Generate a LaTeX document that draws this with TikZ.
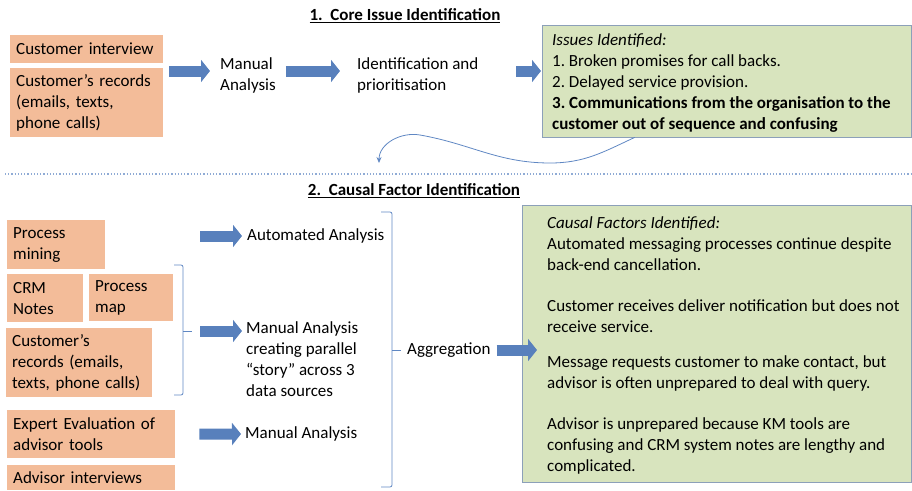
\documentclass[tikz,border=0pt]{standalone}
\usepackage{fontspec}
\setmainfont{Carlito}
\usepackage{xcolor}
\usepackage{tikz}
\usetikzlibrary{arrows.meta,positioning,calc}

\definecolor{peach}{RGB}{243,188,153}
\definecolor{sage}{RGB}{216,228,190}
\definecolor{sageline}{RGB}{140,160,185}
\definecolor{arrowblue}{RGB}{88,128,188}
\definecolor{lineblue}{RGB}{95,135,195}

\begin{document}
\frenchspacing
\begin{tikzpicture}[
    x=1pt, y=-1pt,
    every node/.style={font=\fontsize{17}{21}\selectfont},
    src/.style={rectangle, fill=peach, anchor=north west, align=left, inner xsep=6pt, inner ysep=0pt},
    found/.style={rectangle, draw=sageline, fill=sage, anchor=north west},
    lbl/.style={anchor=west, align=left, inner sep=0pt},
    heading/.style={font=\fontsize{17}{20}\selectfont\bfseries},
    bigarrow/.style={draw=arrowblue, line width=11pt, -{Triangle[length=9pt, width=22pt]}},
    brace/.style={draw=lineblue, line width=0.8pt, rounded corners=2pt},
]
    \useasboundingbox (0,0) rectangle (912,490);

    % Stage 1
    \node[heading] (title1) at (405,16) {\underline{1.\ \ Core Issue Identification}};
    \node[src, text width=141pt, minimum height=28pt] (interview) at (10,35) {Customer interview};
    \node[src, text width=141pt, minimum height=69pt] (records) at (10,68) {Customer’s records\\(emails, texts,\\phone calls)};
    \node[lbl] (manual) at (220,75) {Manual\\Analysis};
    \node[lbl] (identify) at (357,75) {Identification and\\prioritisation};
    \node[found, minimum width=369pt, minimum height=112pt] (issues) at (542,25) {};
    \node[lbl] (issuelist) at ([xshift=10pt,yshift=-2pt]issues.west) {
        \textit{Issues Identified:}\\
        1. Broken promises for call backs.\\
        2. Delayed service provision.\\
        \textbf{3. Communications from the organisation to the}\\
        \textbf{customer out of sequence and confusing}
    };

    \draw[bigarrow] ([xshift=6pt,yshift=4pt]records.east |- manual.west) -- ([xshift=-10pt,yshift=4pt]manual.west);
    \draw[bigarrow] ([xshift=10pt,yshift=4pt]manual.east) -- ([xshift=-17pt,yshift=4pt]identify.west);
    \draw[bigarrow] ([xshift=-26pt,yshift=4pt]issues.west |- identify.west) -- ([xshift=-1pt,yshift=4pt]issues.west |- identify.west);

    % Link down to stage 2
    \coordinate (dropend) at (379,163);
    \draw[lineblue, line width=0.8pt, -{Stealth[length=6pt, width=5pt]}] ([xshift=-92pt]issues.south)
        to[out=205, in=0] (550,163) to[out=180, in=-10] (420,135) to[out=170, in=90] (dropend);
    \draw[lineblue!70, dotted, line width=1.2pt] (5,174) -- (912,174);

    % Stage 2
    \node[heading] (title2) at (414,191) {\underline{2.\ \ Causal Factor Identification}};
    \node[src, text width=86pt, minimum height=49pt] (mining) at (7,220) {Process\\mining};
    \node[src, text width=64pt, minimum height=48pt] (crm) at (7,274) {CRM\\Notes};
    \node[src, text width=72pt, minimum height=47pt] (map) at (89,274) {Process\\map};
    \node[src, text width=134pt, minimum height=69pt] (records2) at (6,328) {Customer’s\\records (emails,\\texts, phone calls)};
    \node[src, text width=156pt, minimum height=48pt] (expert) at (7,410) {Expert Evaluation of\\advisor tools};
    \node[src, text width=156pt, minimum height=25pt] (advisor) at (7,465) {Advisor interviews};

    \node[lbl] (auto) at (247,236) {Automated Analysis};
    \node[lbl] (manual2) at (246,359) {Manual Analysis\\creating parallel\\``story'' across 3\\data sources};
    \node[lbl] (manual3) at (245,434) {Manual Analysis};
    \node[lbl] (aggr) at (407,350) {Aggregation};

    % Brackets
    \coordinate (smalltip) at (192,331);
    \draw[brace] (174,265) -- (183,265) -- (183,395) -- (174,395);
    \draw[brace] (183,331) -- (smalltip);
    \coordinate (bigtip) at (401,350);
    \draw[brace] (381,212) -- (392,212) -- (392,487) -- (381,487);
    \draw[brace] (392,350) -- (bigtip);

    \node[found, minimum width=389pt, minimum height=277pt] (factors) at (522,205) {};
    \node[lbl] (factorlist) at ([xshift=25pt,yshift=-2pt]factors.west) {
        \textit{Causal Factors Identified:}\\
        Automated messaging processes continue despite\\
        back-end cancellation.\\[20pt]
        Customer receives deliver notification but does not\\
        receive service.\\[14pt]
        Message requests customer to make contact, but\\
        advisor is often unprepared to deal with query.\\[20pt]
        Advisor is unprepared because KM tools are\\
        confusing and CRM system notes are lengthy and\\
        complicated.
    };

    \draw[bigarrow] ([xshift=-47pt]auto.west) -- ([xshift=-5pt]auto.west);
    \draw[bigarrow] ([xshift=8pt]smalltip) -- ([xshift=-4pt]smalltip -| manual2.west);
    \draw[bigarrow] ([xshift=24pt]expert.east) -- ([xshift=-4pt]manual3.west);
    \draw[bigarrow] ([xshift=6pt]aggr.east) -- ([xshift=15pt]factors.west |- aggr.east);
\end{tikzpicture}
\end{document}
